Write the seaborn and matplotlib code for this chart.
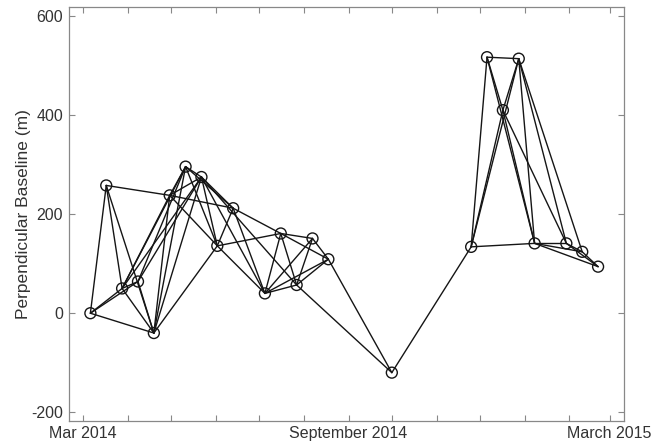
import matplotlib
matplotlib.use("Agg")
import matplotlib.pyplot as plt
import numpy as np
import pandas as pd
import seaborn as sns

# Acquisition dates and perpendicular baselines (m)
acq_dates = [
    "2014-03-06", "2014-03-17", "2014-03-28", "2014-04-08", "2014-04-19",
    "2014-04-30", "2014-05-11", "2014-05-22", "2014-06-02", "2014-06-13",
    "2014-07-05", "2014-07-16", "2014-07-27", "2014-08-07", "2014-08-18",
    "2014-10-01", "2014-11-25", "2014-12-06", "2014-12-17", "2014-12-28",
    "2015-01-08", "2015-01-30", "2015-02-10", "2015-02-21",
]
bperp = [
    0, 258, 50, 64, -40,
    238, 296, 275, 136, 212,
    40, 161, 57, 151, 109,
    -120, 134, 517, 410, 514,
    141, 141, 124, 94,
]

# Interferometric pairs (indices into the acquisition list)
pairs = [
    (0, 1), (0, 2), (0, 3), (0, 4),
    (1, 2), (1, 4), (1, 5),
    (2, 3), (2, 4), (2, 5), (2, 6), (2, 7),
    (3, 4), (3, 6), (3, 7),
    (4, 5), (4, 6), (4, 7), (4, 8),
    (5, 6), (5, 7), (5, 9), (5, 8),
    (6, 7), (6, 8), (6, 9),
    (7, 8), (7, 9), (7, 10), (7, 12),
    (8, 9), (8, 10), (8, 11),
    (9, 10), (9, 11),
    (10, 11), (10, 12), (10, 13), (10, 14),
    (11, 12), (11, 13), (11, 14),
    (12, 13), (12, 14), (12, 15),
    (13, 14),
    (14, 15),
    (15, 16),
    (16, 17), (16, 18), (16, 19), (16, 20),
    (17, 18), (17, 19), (17, 20),
    (18, 19), (18, 20), (18, 21),
    (19, 20), (19, 21), (19, 22),
    (20, 21), (20, 22), (20, 23),
    (21, 22), (21, 23),
    (22, 23),
]

# Axis tick labels
x_tick_labels = {"2014-03-01": "Mar 2014", "2014-09-01": "September 2014",
                 "2015-03-01": "March 2015"}
y_ticks = [-200, 0, 200, 400, 600]

nodes = pd.DataFrame({"date": pd.to_datetime(acq_dates), "bperp": bperp})

rows = []
for k, (i, j) in enumerate(pairs):
    for n in (i, j):
        rows.append({"pair": k, "date": nodes.date[n], "bperp": nodes.bperp[n]})
links = pd.DataFrame(rows)

sns.set_style("ticks")
plt.rcParams["font.family"] = ["Liberation Sans", "DejaVu Sans"]

fig = plt.figure(figsize=(6.51, 4.48), dpi=100)
ax = fig.add_axes([0.1056, 0.061, 0.853, 0.923])

sns.lineplot(data=links, x="date", y="bperp", units="pair", estimator=None,
             color="#151515", linewidth=1.0, ax=ax, legend=False, sort=False)
sns.scatterplot(data=nodes, x="date", y="bperp", marker="o", s=62,
                facecolor="none", edgecolor="#151515", linewidth=1.0,
                ax=ax, legend=False, zorder=3)

ax.set_xlim(pd.Timestamp("2014-02-19"), pd.Timestamp("2015-03-11"))
ax.set_ylim(-217, 618)

months = pd.date_range("2014-03-01", "2015-03-01", freq="MS")
ax.set_xticks(months)
ax.set_xticklabels([x_tick_labels.get(m.strftime("%Y-%m-%d"), "") for m in months])
ax.set_yticks(y_ticks)
ax.set_yticklabels([str(v) for v in y_ticks])

ax.set_xlabel("")
ax.set_ylabel("Perpendicular Baseline (m)", fontsize=12.5, color="#333333", labelpad=0)

ax.tick_params(direction="in", length=4, width=0.8, color="#888888",
               labelcolor="#333333", labelsize=11.5, top=True, right=True, pad=4)
for sp in ax.spines.values():
    sp.set_color("#888888")
    sp.set_linewidth(0.9)

fig.savefig("out.png", dpi=100)
